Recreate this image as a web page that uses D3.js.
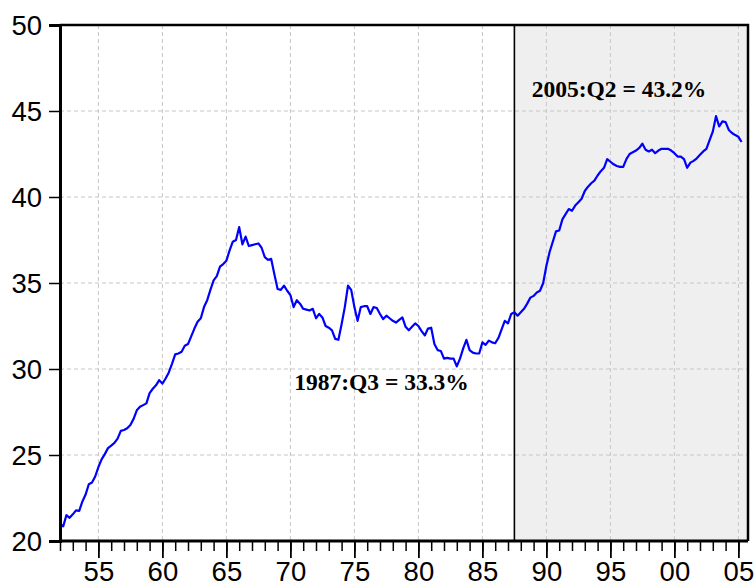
<!DOCTYPE html>
<html>
<head>
<meta charset="utf-8">
<script src="https://cdn.jsdelivr.net/npm/d3@7"></script>
<style>
    body { margin: 0; background: #fff; }
    #plot { width: 754px; height: 586px; }
</style>
</head>
<body>
<div id="plot"></div>
<script>
// quarterly values, 1952:Q1 .. 2005:Q2, one row per year
var startYear = 1952;
var values = [
    21.0, 20.85, 21.5, 21.35,   // 1952
    21.55, 21.78, 21.75, 22.3,
    22.7, 23.3, 23.4, 23.75,
    24.3, 24.75, 25.05, 25.4,   // 1955
    25.55, 25.7, 25.95, 26.4,
    26.45, 26.55, 26.75, 27.1,
    27.6, 27.8, 27.9, 28.0,
    28.6, 28.85, 29.05, 29.35,
    29.15, 29.45, 29.8, 30.3,   // 1960
    30.85, 30.9, 31.0, 31.35,
    31.45, 31.9, 32.35, 32.75,
    32.95, 33.6, 34.0, 34.6,
    35.15, 35.4, 35.95, 36.1,
    36.3, 36.9, 37.4, 37.5,     // 1965
    38.25, 37.25, 37.7, 37.15,
    37.2, 37.25, 37.3, 37.05,
    36.5, 36.35, 36.4, 35.5,
    34.65, 34.6, 34.85, 34.55,
    34.3, 33.6, 34.0, 33.8,     // 1970
    33.5, 33.45, 33.4, 33.5,
    32.95, 33.2, 33.0, 32.5,
    32.4, 32.25, 31.75, 31.7,
    32.6, 33.6, 34.85, 34.6,
    33.6, 32.8, 33.6, 33.65,    // 1975
    33.65, 33.2, 33.6, 33.55,
    33.2, 32.9, 33.1, 32.95,
    32.8, 32.7, 32.85, 33.0,
    32.45, 32.25, 32.45, 32.65,
    32.5, 32.2, 31.95, 32.35,   // 1980
    32.4, 31.45, 31.1, 31.05,
    30.6, 30.65, 30.6, 30.6,
    30.15, 30.6, 31.2, 31.7,
    31.1, 30.95, 30.9, 30.9,
    31.55, 31.4, 31.65, 31.55,  // 1985
    31.5, 31.8, 32.3, 32.8,
    32.65, 33.2, 33.3, 33.1,
    33.3, 33.5, 33.8, 34.15,
    34.25, 34.45, 34.55, 35.0,
    36.0, 36.8, 37.4, 38.0,     // 1990
    38.05, 38.7, 39.0, 39.3,
    39.2, 39.5, 39.7, 39.9,
    40.35, 40.6, 40.8, 40.95,
    41.25, 41.5, 41.7, 42.2,
    42.05, 41.9, 41.8, 41.75,   // 1995
    41.75, 42.2, 42.5, 42.6,
    42.7, 42.85, 43.1, 42.75,
    42.65, 42.75, 42.55, 42.7,
    42.8, 42.8, 42.8, 42.7,
    42.55, 42.35, 42.35, 42.2,  // 2000
    41.7, 42.0, 42.1, 42.25,
    42.45, 42.65, 42.8, 43.3,
    43.8, 44.7, 44.1, 44.4,
    44.35, 43.9, 43.72, 43.6,
    43.5, 43.2                  // 2005
];

var yTicks = [20, 25, 30, 35, 40, 45, 50];
var xMajor = [1955, 1960, 1965, 1970, 1975, 1980, 1985, 1990, 1995, 2000, 2005];
var shadeFrom = 1987.5;   // 1987:Q3
var notes = [
    {text: "2005:Q2 = 43.2%", t: 1988.85, v: 45.8},
    {text: "1987:Q3 = 33.3%", t: 1970.3, v: 28.76}
];

var margin = {t: 25, r: 6, b: 45, l: 60};
var W = 754, H = 586;
var width = W - margin.l - margin.r,
    height = H - margin.t - margin.b;

var svg = d3.select('#plot')
    .append('svg')
    .attr('width', W)
    .attr('height', H);

var plot = svg.append('g')
    .attr('transform', 'translate(' + margin.l + ',' + margin.t + ')');

var x = d3.scaleLinear().domain([1952, 2005.75]).range([0, width]);
var y = d3.scaleLinear().domain([20, 50]).range([height, 0]);

var data = values.map(function (v, i) {
    return {t: startYear + i / 4, v: v};
});

// shaded period
plot.append('rect')
    .attr('x', x(shadeFrom))
    .attr('y', 0)
    .attr('width', width - x(shadeFrom))
    .attr('height', height)
    .attr('fill', '#efefef');

// grid
plot.selectAll('.hgrid')
    .data(yTicks.slice(1, -1))
    .enter()
    .append('line')
    .attr('x1', 0).attr('x2', width)
    .attr('y1', function (d) { return y(d); })
    .attr('y2', function (d) { return y(d); })
    .attr('stroke', '#c6c6c6')
    .attr('stroke-dasharray', '4,3');

plot.selectAll('.vgrid')
    .data(xMajor)
    .enter()
    .append('line')
    .attr('x1', function (d) { return x(d); })
    .attr('x2', function (d) { return x(d); })
    .attr('y1', 0).attr('y2', height)
    .attr('stroke', '#c6c6c6')
    .attr('stroke-dasharray', '4,3');

// vertical marker
plot.append('line')
    .attr('x1', x(shadeFrom)).attr('x2', x(shadeFrom))
    .attr('y1', 0).attr('y2', height)
    .attr('stroke', '#000')
    .attr('stroke-width', 1.6);

// series
var line = d3.line()
    .x(function (d) { return x(d.t); })
    .y(function (d) { return y(d.v); });

plot.append('path')
    .datum(data)
    .attr('d', line)
    .attr('fill', 'none')
    .attr('stroke', '#0000ff')
    .attr('stroke-width', 2.2)
    .attr('stroke-linejoin', 'round');

// frame: top and right
plot.append('path')
    .attr('d', 'M0,0H' + width + 'V' + height)
    .attr('fill', 'none')
    .attr('stroke', '#000')
    .attr('stroke-width', 2.5);

// y axis
var yAxis = d3.axisLeft(y)
    .tickValues(yTicks)
    .tickSize(11)
    .tickPadding(7)
    .tickFormat(d3.format('d'));

var gy = plot.append('g').call(yAxis);
gy.select('.domain').attr('stroke-width', 3);
gy.selectAll('.tick line').attr('stroke-width', 1.5);
gy.selectAll('text')
    .attr('font-family', 'Liberation Sans, Arial, sans-serif')
    .attr('font-size', 27.5)
    .attr('dy', '0.36em')
    .attr('fill', '#000');

// x axis: minor every year, major every 5
var minorYears = d3.range(1952, 2006);
var gx = plot.append('g')
    .attr('transform', 'translate(0,' + height + ')');

gx.append('g').call(d3.axisBottom(x)
        .tickValues(minorYears)
        .tickSize(10)
        .tickSizeOuter(0)
        .tickFormat(''))
    .call(function (g) {
        g.select('.domain').attr('stroke-width', 3).attr('d', 'M0,0H' + width);
        g.selectAll('.tick line').attr('stroke-width', 1.5);
    });

gx.append('g').call(d3.axisBottom(x)
        .tickValues(xMajor)
        .tickSize(17)
        .tickPadding(4)
        .tickFormat(function (d) { return d3.format('02d')(d % 100); }))
    .call(function (g) {
        g.select('.domain').remove();
        g.selectAll('.tick line').attr('stroke-width', 1.8);
        g.selectAll('text')
            .attr('font-family', 'Liberation Sans, Arial, sans-serif')
            .attr('font-size', 27.5)
            .attr('dy', '0.68em')
            .attr('fill', '#000');
    });

// annotations
plot.selectAll('.note')
    .data(notes)
    .enter()
    .append('text')
    .attr('x', function (d) { return x(d.t); })
    .attr('y', function (d) { return y(d.v); })
    .attr('font-family', 'Liberation Serif, Times New Roman, serif')
    .attr('font-weight', 'bold')
    .attr('font-size', 23.5)
    .attr('fill', '#000')
    .text(function (d) { return d.text; });
</script>
</body>
</html>
